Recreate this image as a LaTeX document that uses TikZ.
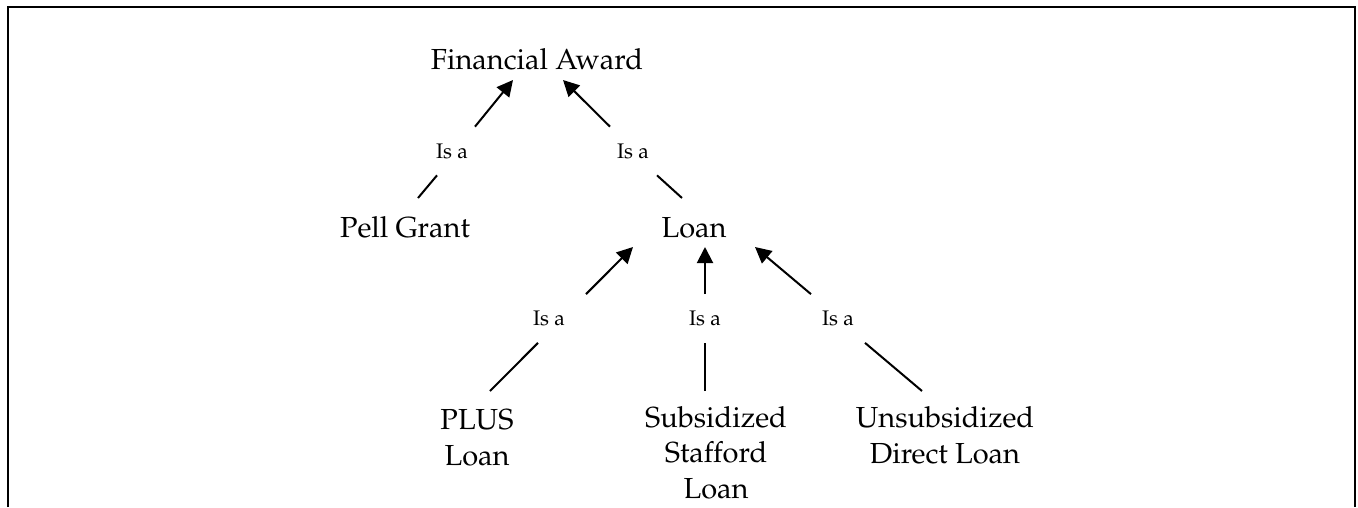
\documentclass[tikz,border=0pt]{standalone}
\usepackage[T1]{fontenc}
\usepackage{mathpazo}
\usetikzlibrary{arrows.meta,positioning}

\begin{document}
\begin{tikzpicture}[
x=0.2mm, y=-0.2mm,
Concept/.style={font=\fontsize{16.5}{20}\selectfont,align=center,inner sep=0pt,anchor=base},
IsaLabel/.style={font=\fontsize{12}{14}\selectfont,inner sep=0pt,minimum width=14mm,minimum height=9.6mm},
Link/.style={line width=0.4mm},
IsaArrow/.style={Link,-{Triangle[length=3.2mm,width=3.2mm]}}
]
\useasboundingbox (0,0) rectangle (1358,507);
\draw[line width=0.4mm] (8,507) -- (8,6.5) -- (1355,6.5) -- (1355,507);

\node[Concept] (award) at (537,69) {Financial Award};
\node[Concept] (pell) at (405,237) {Pell Grant};
\node[Concept] (loan) at (694,237) {Loan};
\node[Concept] (plus) at (477,465) {PLUS\\Loan};
\node[Concept] (subs) at (716,498) {Subsidized\\Stafford\\Loan};
\node[Concept] (unsub) at (945,463) {Unsubsidized\\Direct Loan};

\node[IsaLabel] (isaPell) at (452,151) {Is a};
\node[IsaLabel] (isaLoan) at (633,151) {Is a};
\node[IsaLabel] (isaPlus) at (549,318.5) {Is a};
\node[IsaLabel] (isaSubs) at (705,318.5) {Is a};
\node[IsaLabel] (isaUnsub) at (838,318.5) {Is a};

\draw[Link] ([shift={(13,-39)}]pell.base) -- ([shift={(-15,0)}]isaPell.south);
\draw[IsaArrow] ([shift={(23,0)}]isaPell.north) -- ([shift={(-24,11)}]award.base);

\draw[Link] ([shift={(-12,-39)}]loan.base) -- ([shift={(24,0)}]isaLoan.south);
\draw[IsaArrow] ([shift={(-23,0)}]isaLoan.north) -- ([shift={(26,11)}]award.base);

\draw[Link] ([shift={(13,-74)}]plus.base) -- ([shift={(-11,0)}]isaPlus.south);
\draw[IsaArrow] ([shift={(37,0)}]isaPlus.north) -- ([shift={(-61,10)}]loan.base);

\draw[Link] ([shift={(-11,-107)}]subs.base) -- (isaSubs.south);
\draw[IsaArrow] (isaSubs.north) -- ([shift={(11,10)}]loan.base);

\draw[Link] ([shift={(-23,-72)}]unsub.base) -- ([shift={(27,0)}]isaUnsub.south);
\draw[IsaArrow] ([shift={(-27,0)}]isaUnsub.north) -- ([shift={(61,10)}]loan.base);
\end{tikzpicture}
\end{document}
